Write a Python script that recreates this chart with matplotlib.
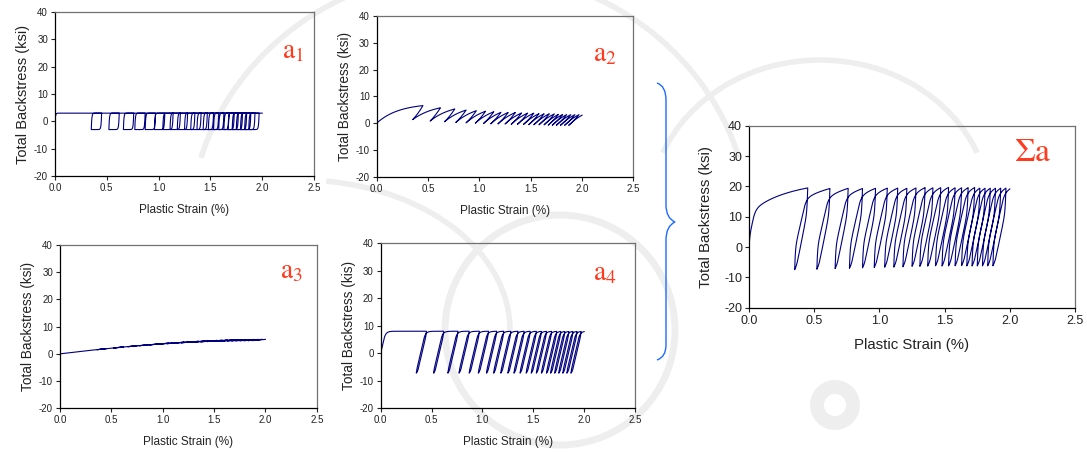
import numpy as np
import matplotlib
matplotlib.use("Agg")
import matplotlib.pyplot as plt
from matplotlib.path import Path
from matplotlib.patches import PathPatch, Arc

plt.rcParams['font.family'] = ['Liberation Sans', 'DejaVu Sans']
plt.rcParams['mathtext.fontset'] = 'stix'
plt.rcParams['axes.unicode_minus'] = False

# strain reversal points (plastic strain, %)
peak_strain = [0.45, 0.62, 0.76, 0.87, 0.97, 1.06, 1.14, 1.21, 1.28, 1.35, 1.41, 1.47,
               1.53, 1.58, 1.63, 1.68, 1.73, 1.77, 1.81, 1.85, 1.89, 1.93, 1.97, 2.00]
valley_strain = [0.35, 0.52, 0.66, 0.77, 0.87, 0.96, 1.04, 1.11, 1.18, 1.25, 1.31, 1.37,
                 1.43, 1.48, 1.53, 1.58, 1.63, 1.67, 1.71, 1.75, 1.79, 1.83, 1.87]

# backstress components a1..a4: C (ksi/%), gamma, threshold (ksi), recovery only when loading
comp_C = [600.0, 35.0, 4.5, 160.0]
comp_gamma = [200.0, 4.7, 0.225, 53.0]
comp_thr = [0.0, 0.0, 0.0, 5.0]
comp_oneway = [False, False, True, False]

panel_names = [r'$\mathrm{a}_1$', r'$\mathrm{a}_2$', r'$\mathrm{a}_3$', r'$\mathrm{a}_4$']
ylabels = ['Total Backstress (ksi)', 'Total Backstress (ksi)',
           'Total Backstress (ksi)', 'Total Backstress (kis)']
xticks = [0.0, 0.5, 1.0, 1.5, 2.0, 2.5]
yticks = [-20, -10, 0, 10, 20, 30, 40]

# strain path through the reversal points
turns = [0.0]
for i, p in enumerate(peak_strain):
    turns.append(p)
    if i < len(valley_strain):
        turns.append(valley_strain[i])
eps = [np.array([0.0])]
for a, b in zip(turns[:-1], turns[1:]):
    n = max(int(abs(b - a) / 0.0005), 2)
    eps.append(np.linspace(a, b, n + 1)[1:])
eps = np.concatenate(eps)
deps = np.diff(eps)

# integrate each backstress component along the path
alphas = []
for C, g, thr, oneway in zip(comp_C, comp_gamma, comp_thr, comp_oneway):
    al = np.zeros(len(eps))
    for k, d in enumerate(deps):
        a = al[k]
        if oneway:
            rec = g * a * d if a * d > 0 else 0.0
            al[k + 1] = a + C * d - rec
        elif thr == 0:
            s = np.sign(d)
            A = C / g
            al[k + 1] = s * A + (a - s * A) * np.exp(-g * abs(d))
        else:
            rec = g * max(abs(a) - thr, 0.0) * np.sign(a) * abs(d)
            al[k + 1] = a + C * d - rec
    alphas.append(al)
total = np.sum(alphas, axis=0)

fig = plt.figure(figsize=(10.87, 4.54), dpi=100)

# background: faint watermark arcs + brace, in pixel coords
bg = fig.add_axes([0, 0, 1, 1], zorder=-5)
bg.set_xlim(0, 1087)
bg.set_ylim(454, 0)
bg.axis('off')
wm = '#eeeeee'
for (cx, cy, w, h, t1, t2, lw) in [(560, 330, 230, 230, 0, 360, 5),
                                   (470, 230, 560, 520, 195, 345, 4),
                                   (820, 210, 340, 300, 200, 340, 4),
                                   (835, 405, 36, 36, 0, 360, 10),
                                   (300, 330, 420, 300, 280, 360, 4)]:
    bg.add_patch(Arc((cx, cy), w, h, theta1=t1, theta2=t2, color=wm, lw=lw))

verts = [(657, 83), (666, 86), (666, 100), (666, 110),
         (666, 205), (666, 218), (675, 222),
         (666, 226), (666, 240),
         (666, 345), (666, 357), (657, 360)]
codes = [Path.MOVETO, Path.CURVE3, Path.CURVE3, Path.LINETO,
         Path.LINETO, Path.CURVE3, Path.CURVE3,
         Path.CURVE3, Path.CURVE3,
         Path.LINETO, Path.CURVE3, Path.CURVE3]
bg.add_patch(PathPatch(Path(verts, codes), fill=False, ec='#1f6bff', lw=1.0))


def style_axes(ax, tick_fs, xlab_fs, ylab_fs, ylab):
    ax.set_facecolor('none')
    ax.set_xlim(0, 2.5)
    ax.set_ylim(-20, 40)
    ax.set_xticks(xticks)
    ax.set_xticklabels(['%.1f' % t for t in xticks])
    ax.set_yticks(yticks)
    ax.tick_params(direction='out', length=3, width=0.8, labelsize=tick_fs,
                   colors='#222222', pad=2)
    for s in ['top', 'right']:
        ax.spines[s].set_color('#707070')
    for s in ['left', 'bottom']:
        ax.spines[s].set_color('black')
    for s in ax.spines.values():
        s.set_linewidth(0.9)
    ax.set_xlabel('Plastic Strain (%)', fontsize=xlab_fs, color='#222222')
    ax.set_ylabel(ylab, fontsize=ylab_fs, color='#222222')


rects = [[0.0506, 0.6123, 0.2383, 0.3612],
         [0.3466, 0.6108, 0.2361, 0.3540],
         [0.0552, 0.1007, 0.2362, 0.3597],
         [0.3502, 0.1007, 0.2340, 0.3634]]
name_pos = [(0.92, 0.76), (0.89, 0.76), (0.90, 0.84), (0.88, 0.82)]
ylab_sizes = [10.5, 9.8, 9.8, 9.8]

for i in range(4):
    ax = fig.add_axes(rects[i])
    ax.plot(eps, alphas[i], color='#000080', lw=0.8)
    style_axes(ax, 7, 8.5, ylab_sizes[i], ylabels[i])
    ax.xaxis.labelpad = 8
    ax.yaxis.labelpad = 3
    ax.text(name_pos[i][0], name_pos[i][1], panel_names[i], transform=ax.transAxes,
            fontsize=20, color='#ff3b1f', ha='center', va='center')

axs = fig.add_axes([0.6891, 0.3222, 0.2999, 0.4009])
axs.plot(eps, total, color='#000080', lw=0.8)
style_axes(axs, 9, 10.8, 10.8, 'Total Backstress (ksi)')
axs.xaxis.labelpad = 8
axs.yaxis.labelpad = 8
axs.text(0.87, 0.855, r'$\Sigma\mathrm{a}$', transform=axs.transAxes,
         fontsize=24, color='#ff3b1f', ha='center', va='center')

fig.savefig('out.png', dpi=100)
